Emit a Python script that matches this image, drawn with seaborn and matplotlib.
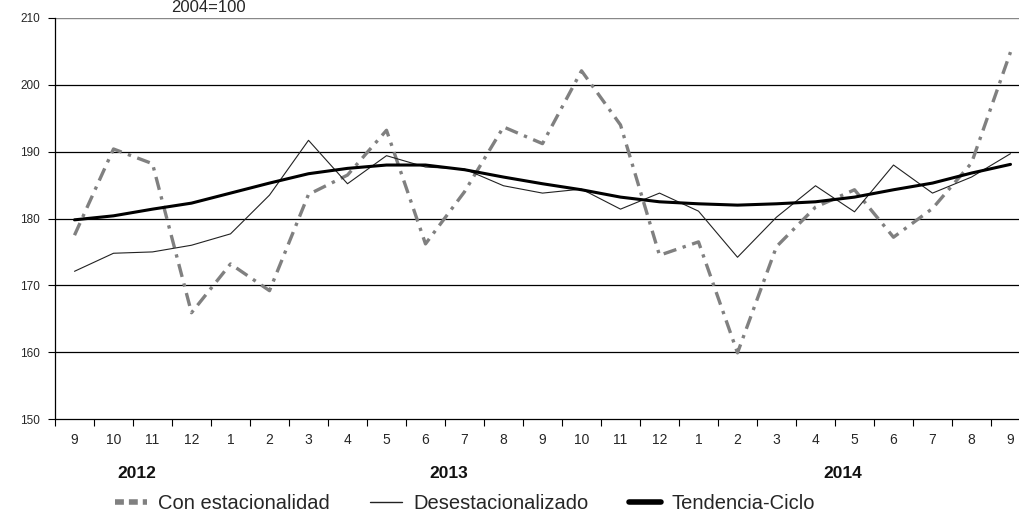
import pandas as pd
import seaborn as sns
import matplotlib.pyplot as plt

# months Sep 2012 .. Sep 2014
months = ["9", "10", "11", "12", "1", "2", "3", "4", "5", "6", "7", "8", "9",
          "10", "11", "12", "1", "2", "3", "4", "5", "6", "7", "8", "9"]
years = ["2012", "2013", "2014"]
year_pos = [1.6, 9.6, 19.7]

con_estac = [177.5, 190.4, 188.2, 165.9, 173.2, 169.2, 183.6, 186.5, 193.2, 176.2,
             184.0, 193.7, 191.2, 202.1, 194.0, 174.5, 176.5, 159.9, 175.8, 181.7,
             184.3, 177.2, 181.5, 188.3, 204.9]
desestac = [172.1, 174.8, 175.0, 176.0, 177.7, 183.5, 191.7, 185.2, 189.4, 187.7,
            187.4, 184.9, 183.8, 184.4, 181.4, 183.8, 181.1, 174.2, 180.2, 184.9,
            181.0, 188.0, 183.8, 186.2, 189.7]
tendencia = [179.8, 180.4, 181.4, 182.3, 183.8, 185.3, 186.7, 187.5, 188.0, 188.0,
             187.3, 186.2, 185.2, 184.3, 183.2, 182.5, 182.2, 182.0, 182.2, 182.5,
             183.2, 184.3, 185.3, 186.8, 188.1]

df = pd.DataFrame({"idx": range(len(months)), "con": con_estac,
                   "des": desestac, "ten": tendencia})

sns.set_theme(style="white")
plt.rcParams["font.family"] = ["Liberation Sans", "DejaVu Sans"]

fig = plt.figure(figsize=(10.19, 5.19), dpi=100)
# the original is cropped on the right, so the axes run a little past the edge
ax = fig.add_axes([55 / 1019, 100 / 519, 975 / 1019, 401 / 519])

sns.lineplot(data=df, x="idx", y="con", ax=ax, color="#808080", linewidth=2.4,
             label="Con estacionalidad")
ax.lines[-1].set_linestyle((0, (4, 2, 1, 2)))
sns.lineplot(data=df, x="idx", y="des", ax=ax, color="#222222", linewidth=0.8,
             label="Desestacionalizado")
sns.lineplot(data=df, x="idx", y="ten", ax=ax, color="black", linewidth=2.2,
             label="Tendencia-Ciclo")

ax.set_xlim(-0.5, len(months) - 0.5)
ax.set_ylim(150, 210)
ax.set_yticks(range(150, 211, 10))
ax.set_yticklabels([str(v) for v in range(150, 211, 10)], fontsize=8.5)
for v in range(160, 201, 10):
    ax.axhline(v, color="black", linewidth=0.9, zorder=0)
ax.axhline(210, color="#888888", linewidth=1.0, zorder=0)

ax.set_xticks(range(len(months)))
ax.set_xticklabels(months, fontsize=10)
ax.set_xticks([i + 0.5 for i in range(-1, len(months))], minor=True)
ax.tick_params(axis="x", which="major", length=0, pad=10)
ax.tick_params(axis="x", which="minor", length=5, width=0.8, color="black",
               direction="out", bottom=True)
ax.tick_params(axis="y", length=5, width=0.8, color="black", direction="out",
               left=True, pad=6)
ax.set_xlabel("")
ax.set_ylabel("")

for s in ["top", "right"]:
    ax.spines[s].set_visible(False)
for s in ["left", "bottom"]:
    ax.spines[s].set_color("black")
    ax.spines[s].set_linewidth(0.9)

for y, p in zip(years, year_pos):
    ax.text(p, -0.137, y, transform=ax.get_xaxis_transform(), ha="center",
            va="center", fontsize=12.5, fontweight="bold", color="#111111")

fig.text(208 / 1019, 1.0, "2004=100", ha="center", va="top", fontsize=12)

leg = ax.legend(loc="center", bbox_to_anchor=(410 / 975, -0.21), ncol=3,
                frameon=False, fontsize=14.5, handlelength=1.6,
                columnspacing=2.0, handletextpad=0.55, borderpad=0.1)
hl = leg.get_lines()
hl[0].set_linestyle((0, (1.6, 0.9)))
hl[0].set_linewidth(4)
hl[1].set_linewidth(1.0)
hl[2].set_linewidth(4)

plt.savefig("out.png", dpi=100)
